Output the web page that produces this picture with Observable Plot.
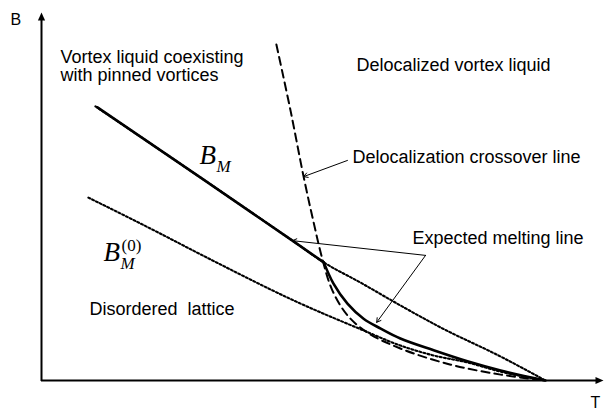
<!DOCTYPE html>
<html><head><meta charset="utf-8">
<script src="https://cdn.jsdelivr.net/npm/d3@7"></script>
<script src="https://cdn.jsdelivr.net/npm/@observablehq/plot@0.6"></script>
<style>body{margin:0;background:#fff;} svg{display:block;background:#fff;}</style>
</head><body><div id="chart"></div>
<script>
// Schematic B–T phase diagram (T in units where Tc = 100, B arbitrary units)
// Melting line B_M (solid, upper straight part)
const meltUpperT = [11.1, 31.5, 50.0, 56.0];
const meltUpperB = [74.2, 55.2, 37.8, 32.1];
// Expected melting line below the kink (solid)
const meltLowerT = [56.0, 57.9, 60.7, 63.9, 67.3, 71.2, 77.8, 84.5, 91.1, 100];
const meltLowerB = [32.1, 26.4, 20.9, 16.8, 14.1, 11.4, 8.2, 5.2, 2.7, 0];
// B_M continued (dotted)
const bmDotT = [10.7, 31.5, 50.0, 56.0, 63.3, 71.2, 79.2, 91.1, 100];
const bmDotB = [74.5, 55.2, 37.8, 32.1, 26.6, 20.4, 14.4, 6.5, 0];
// B_M^(0) (dotted)
const bm0T = [9.3, 21.6, 33.1, 51.4, 63.9, 71.2, 77.8, 84.5, 91.1, 100];
const bm0B = [49.7, 41.3, 33.2, 20.9, 13.6, 9.5, 6.8, 4.9, 2.4, 0];
// Delocalization crossover line (dashed)
const delocT = [46.6, 49.4, 52.0, 54.0, 55.8, 57.7, 60.7, 64.7, 71.2, 81.2, 91.1, 100];
const delocB = [91.3, 73.4, 55.4, 42.9, 32.6, 24.5, 17.7, 13.0, 8.7, 4.3, 1.6, 0];
// Annotation arrows
const arrowT1 = [60.7, 76.2, 76.2];
const arrowB1 = [59.8, 34.0, 34.0];
const arrowT2 = [52.0, 49.8, 66.5];
const arrowB2 = [55.4, 38.0, 15.8];
// Text labels
const labelText = ["Vortex liquid coexisting", "with pinned vortices", "Delocalized vortex liquid",
  "Delocalization crossover line", "Expected melting line", "Disordered \u00A0lattice"];
const labelT = [3.77, 3.77, 62.5, 61.7, 73.6, 9.5];
const labelB = [86.4, 81.5, 84.2, 59.0, 37.2, 17.7];
// Math labels B_M and B_M^(0)
const mathT = [31.35, 12.3];
const mathB = [58.7, 32.6];
// Axis labels
const axisText = ["B", "T"];
const axisT = [-6.15, 108.9];
const axisB = [96.7, -7.4];
const tMax = 111.5, bMax = 100;

const toRows = (T, B) => T.map((t, i) => ({T: t, B: B[i]}));
const labels = labelText.map((s, i) => ({s, T: labelT[i], B: labelB[i]}));
const arrows = arrowT1.map((t, i) => ({T1: t, B1: arrowB1[i], T2: arrowT2[i], B2: arrowB2[i]}));
const maths = mathT.map((t, i) => ({T: t, B: mathB[i]}));
const axl = axisText.map((s, i) => ({s, T: axisT[i], B: axisB[i]}));

const upHead = {draw(ctx, size) { const s = Math.sqrt(size / Math.PI) * 2; ctx.moveTo(0, 0); ctx.lineTo(-s * 0.45, s); ctx.lineTo(s * 0.45, s); ctx.closePath(); }};
const rightHead = {draw(ctx, size) { const s = Math.sqrt(size / Math.PI) * 2; ctx.moveTo(0, 0); ctx.lineTo(-s, -s * 0.45); ctx.lineTo(-s, s * 0.45); ctx.closePath(); }};

const sans = "'Liberation Sans', Arial, sans-serif";
const serif = "'Liberation Serif', 'Times New Roman', serif";
const dotted = {stroke: "#000", strokeWidth: 2.1, strokeDasharray: "2,2.2", curve: "monotone-x"};

const chart = Plot.plot({
  width: 606, height: 411,
  marginLeft: 41, marginRight: 3, marginTop: 12, marginBottom: 31,
  x: {domain: [0, tMax], axis: null},
  y: {domain: [0, bMax], axis: null},
  style: {background: "#fff", color: "#000", overflow: "visible"},
  marks: [
    // axes
    Plot.ruleY([0], {x1: 0, x2: tMax - 1.2, stroke: "#000", strokeWidth: 2}),
    Plot.ruleX([0], {y1: -0.3, y2: bMax - 2, stroke: "#000", strokeWidth: 2}),
    Plot.dot([{T: 0, B: bMax}], {x: "T", y: "B", symbol: upHead, r: 4, fill: "#000", stroke: "none"}),
    Plot.dot([{T: tMax, B: 0}], {x: "T", y: "B", symbol: rightHead, r: 4, fill: "#000", stroke: "none"}),
    // dotted lines
    Plot.line(toRows(bmDotT, bmDotB), {x: "T", y: "B", ...dotted}),
    Plot.line(toRows(bm0T, bm0B), {x: "T", y: "B", ...dotted}),
    // dashed line
    Plot.line(toRows(delocT, delocB), {x: "T", y: "B", stroke: "#000", strokeWidth: 2, strokeDasharray: "8,5", curve: "catmull-rom"}),
    // solid melting line
    Plot.line(toRows(meltUpperT, meltUpperB), {x: "T", y: "B", stroke: "#000", strokeWidth: 2.6, curve: "monotone-x"}),
    Plot.line(toRows(meltLowerT, meltLowerB), {x: "T", y: "B", stroke: "#000", strokeWidth: 2.6, curve: "catmull-rom"}),
    // annotation arrows
    Plot.arrow(arrows, {x1: "T1", y1: "B1", x2: "T2", y2: "B2", stroke: "#000", strokeWidth: 1, headLength: 7}),
    // labels
    Plot.text(labels, {x: "T", y: "B", text: "s", textAnchor: "start", lineAnchor: "bottom", fontSize: 18, fontFamily: sans, fill: "#000"}),
    Plot.text(axl, {x: "T", y: "B", text: "s", textAnchor: "start", lineAnchor: "bottom", fontSize: 16, fontFamily: sans, fill: "#000"}),
    Plot.text(maths, {x: "T", y: "B", text: () => "B", textAnchor: "start", lineAnchor: "bottom", fontSize: 27, fontFamily: serif, fontStyle: "italic", fill: "#000"}),
    Plot.text(maths, {x: "T", y: "B", text: () => "M", textAnchor: "start", lineAnchor: "bottom", dx: 17, dy: 8, fontSize: 17, fontFamily: serif, fontStyle: "italic", fill: "#000"}),
    Plot.text(maths.slice(1), {x: "T", y: "B", text: () => "(0)", textAnchor: "start", lineAnchor: "bottom", dx: 18, dy: -10, fontSize: 17, fontFamily: serif, fill: "#000"})
  ]
});
document.getElementById("chart").append(chart);
</script></body></html>
